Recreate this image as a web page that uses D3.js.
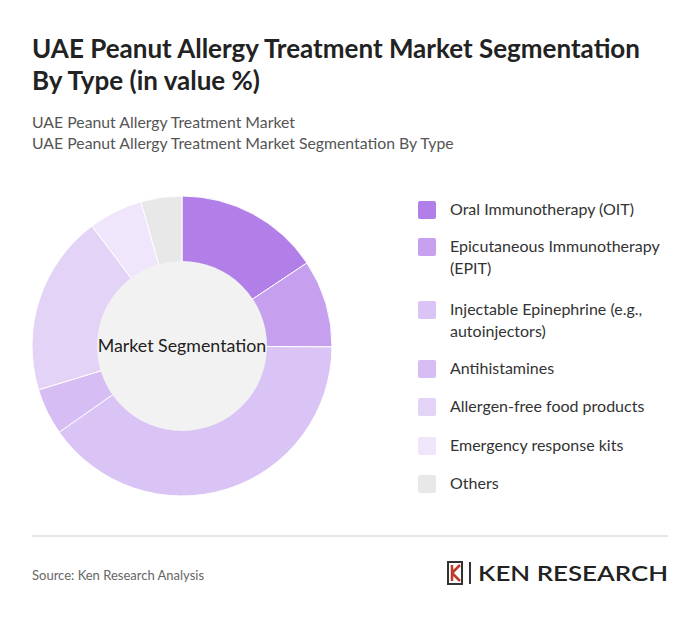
<!DOCTYPE html><html><head><script src="https://cdn.jsdelivr.net/npm/d3@7"></script>
<style>body{margin:0;background:#fff;font-family:Lato,"Open Sans",sans-serif}</style></head><body>
<svg id="c" width="700" height="621"></svg>
<script>
const categories=["Oral Immunotherapy (OIT)","Epicutaneous Immunotherapy (EPIT)","Injectable Epinephrine (e.g., autoinjectors)","Antihistamines","Allergen-free food products","Emergency response kits","Others"];
const legendLines=[["Oral Immunotherapy (OIT)"],["Epicutaneous Immunotherapy","(EPIT)"],["Injectable Epinephrine (e.g.,","autoinjectors)"],["Antihistamines"],["Allergen-free food products"],["Emergency response kits"],["Others"]];
const values=[15.6,9.4,40,5,19.4,5.8,4.4];
const colors=["#b27fe9","#c6a0ee","#dac3f5","#d6bdf3","#e3d3f7","#efe6fb","#e8e8e8"];
const svg=d3.select("#c");
svg.append("text").attr("x",32).attr("y",58).attr("font-size",26).attr("font-weight",700).attr("fill","#222").text("UAE Peanut Allergy Treatment Market Segmentation");
svg.append("text").attr("x",32).attr("y",90).attr("font-size",26).attr("font-weight",700).attr("fill","#222").text("By Type (in value %)");
svg.append("text").attr("x",32).attr("y",128).attr("font-size",15.8).attr("fill","#555").text("UAE Peanut Allergy Treatment Market");
svg.append("text").attr("x",32).attr("y",149).attr("font-size",15.8).attr("fill","#555").text("UAE Peanut Allergy Treatment Market Segmentation By Type");
const g=svg.append("g").attr("transform","translate(182,346)");
const pie=d3.pie().sort(null).value(d=>d)(values);
const arc=d3.arc().innerRadius(0).outerRadius(150);
g.selectAll("path").data(pie).join("path").attr("d",arc).attr("fill",(d,i)=>colors[i]).attr("stroke","#fff").attr("stroke-width",1);
g.append("circle").attr("r",85).attr("fill","#f2f2f2");
g.append("text").attr("text-anchor","middle").attr("dy",6).attr("font-size",17.8).attr("fill","#222").text("Market Segmentation");
const ys=[210,247,310,369,407,446,484];
legendLines.forEach((ls,i)=>{
  svg.append("rect").attr("x",418).attr("y",ys[i]-9).attr("width",18).attr("height",18).attr("rx",2).attr("fill",colors[i]);
  ls.forEach((t,j)=>svg.append("text").attr("x",450).attr("y",ys[i]+5+j*22).attr("font-size",16).attr("fill","#333").text(t));
});
svg.append("line").attr("x1",32).attr("x2",668).attr("y1",536).attr("y2",536).attr("stroke","#ccc");
svg.append("text").attr("x",32).attr("y",580).attr("font-size",13).attr("fill","#666").text("Source: Ken Research Analysis");
const lg=svg.append("g").attr("transform","translate(448,562)");
lg.append("path").attr("d","M0,0 L14,0 L14,22 L0,22 Z").attr("fill","none").attr("stroke","#333").attr("stroke-width",2);
lg.append("path").attr("d","M4,3 L4,19 M4,11 L12,3 M4,11 L12,19").attr("stroke","#c0392b").attr("stroke-width",2.5).attr("fill","none");
svg.append("line").attr("x1",470).attr("x2",470).attr("y1",562).attr("y2",584).attr("stroke","#333").attr("stroke-width",2);
svg.append("text").attr("x",478).attr("y",581).attr("font-size",21).attr("font-weight",600).attr("fill","#222").attr("textLength",190).attr("lengthAdjust","spacingAndGlyphs").text("KEN RESEARCH");
</script></body></html>
